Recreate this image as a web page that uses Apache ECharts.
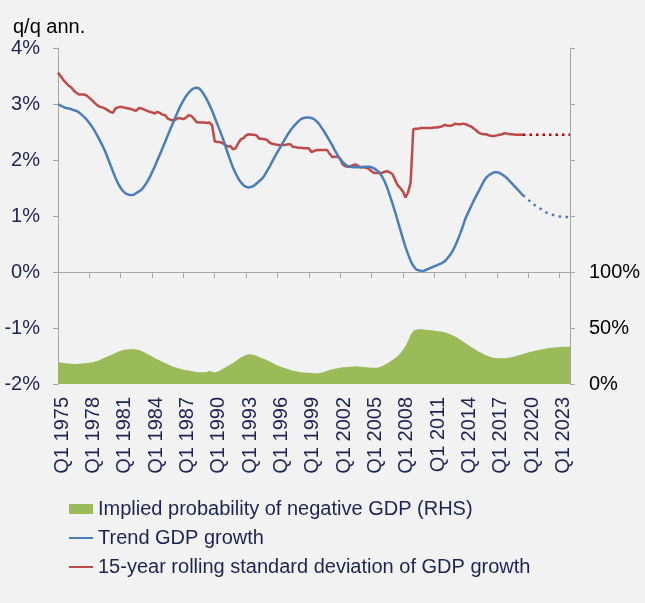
<!DOCTYPE html>
<html>
<head>
<meta charset="utf-8">
<script src="https://cdn.jsdelivr.net/npm/echarts@6/dist/echarts.min.js"></script>
<style>
html,body{margin:0;padding:0;background:#F2F2F2;}
#c{width:645px;height:603px;}
</style>
</head>
<body>
<div id="c"></div>
<script>
// Quarterly categories Q1 1975 .. Q1 2024
var categories = [];
for (var y = 1975; y <= 2024; y++) {
  for (var q = 1; q <= 4; q++) {
    if (y === 2024 && q > 1) break;
    categories.push('Q' + q + ' ' + y);
  }
}

// Trend GDP growth (% q/q ann.), solid part Q1 1975 .. Q3 2019
var trendGrowth = [
  3.00, 2.97, 2.95, 2.93,
  2.92, 2.91, 2.89, 2.88,
  2.85, 2.81, 2.77, 2.72,
  2.66, 2.60, 2.52, 2.44,
  2.35, 2.26, 2.16, 2.04,
  1.92, 1.80, 1.68, 1.58,
  1.50, 1.44, 1.40, 1.38,
  1.375, 1.38, 1.41, 1.44,
  1.47, 1.53, 1.60, 1.68,
  1.78, 1.88, 1.99, 2.10,
  2.21, 2.32, 2.44, 2.55,
  2.66, 2.77, 2.88, 2.98,
  3.06, 3.14, 3.20, 3.25,
  3.28, 3.29, 3.28, 3.23,
  3.16, 3.08, 2.98, 2.88,
  2.76, 2.64, 2.52, 2.40,
  2.26, 2.12, 1.99, 1.86,
  1.76, 1.67, 1.60, 1.55,
  1.52, 1.51, 1.52, 1.54,
  1.58, 1.62, 1.66, 1.72,
  1.80, 1.88, 1.97, 2.06,
  2.14, 2.22, 2.30, 2.38,
  2.46, 2.53, 2.59, 2.64,
  2.69, 2.73, 2.75, 2.76,
  2.76, 2.75, 2.73, 2.69,
  2.64, 2.57, 2.50, 2.42,
  2.34, 2.26, 2.17, 2.09,
  2.02, 1.96, 1.92, 1.89,
  1.88, 1.87, 1.87, 1.87,
  1.87, 1.88, 1.88, 1.88,
  1.87, 1.85, 1.82, 1.78,
  1.71, 1.62, 1.51, 1.37,
  1.23, 1.08, 0.92, 0.76,
  0.60, 0.45, 0.32, 0.20,
  0.11, 0.05, 0.03, 0.02,
  0.02, 0.04, 0.06, 0.08,
  0.10, 0.12, 0.14, 0.16,
  0.19, 0.24, 0.30, 0.37,
  0.46, 0.57, 0.69, 0.82,
  0.96, 1.06, 1.16, 1.26,
  1.35, 1.44, 1.53, 1.62,
  1.69, 1.73, 1.76, 1.78,
  1.78, 1.77, 1.74, 1.71,
  1.67, 1.62, 1.57, 1.52,
  1.47, 1.42, 1.37
];
// Trend GDP growth projection, Q3 2019 .. Q1 2024
var trendProjection = [
  1.37, 1.33, 1.29, 1.25, 1.21, 1.18, 1.15, 1.12, 1.09, 1.06,
  1.04, 1.03, 1.01, 1.00, 0.99, 0.99, 0.98, 0.98, 0.97
];

// 15-year rolling standard deviation of GDP growth, Q1 1975 .. Q3 2019
var rollingStd = [
  3.56, 3.50, 3.43, 3.38,
  3.33, 3.30, 3.24, 3.20,
  3.17, 3.17, 3.17, 3.15,
  3.11, 3.07, 3.02, 2.98,
  2.95, 2.94, 2.92, 2.89,
  2.86, 2.84, 2.92, 2.94,
  2.95, 2.94, 2.93, 2.92,
  2.91, 2.89, 2.88, 2.93,
  2.92, 2.90, 2.88, 2.86,
  2.85, 2.83, 2.86, 2.84,
  2.81, 2.80, 2.74, 2.72,
  2.71, 2.72, 2.75, 2.74,
  2.73, 2.76, 2.80, 2.79,
  2.74, 2.68, 2.67, 2.67,
  2.67, 2.66, 2.67, 2.62,
  2.33, 2.32, 2.32, 2.30,
  2.27, 2.24, 2.25, 2.19,
  2.21, 2.30, 2.37, 2.39,
  2.44, 2.46, 2.45, 2.45,
  2.44, 2.38, 2.38, 2.37,
  2.36, 2.31, 2.29, 2.28,
  2.27, 2.27, 2.27, 2.27,
  2.28, 2.28, 2.23, 2.23,
  2.22, 2.22, 2.21, 2.21,
  2.21, 2.14, 2.16, 2.18,
  2.18, 2.18, 2.18, 2.18,
  2.11, 2.05, 2.06, 2.06,
  2.02, 1.92, 1.89, 1.88,
  1.89, 1.91, 1.92, 1.89,
  1.87, 1.87, 1.86, 1.84,
  1.80, 1.77, 1.77, 1.77,
  1.77, 1.79, 1.80, 1.78,
  1.75, 1.65, 1.55, 1.50,
  1.44, 1.33, 1.42, 1.60,
  2.55, 2.56, 2.56, 2.57,
  2.57, 2.57, 2.57, 2.57,
  2.58, 2.58, 2.59, 2.60,
  2.63, 2.61, 2.61, 2.62,
  2.65, 2.64, 2.64, 2.65,
  2.64, 2.62, 2.60, 2.57,
  2.53, 2.49, 2.47, 2.46,
  2.46, 2.44, 2.43, 2.43,
  2.44, 2.45, 2.46, 2.48,
  2.47, 2.46, 2.46, 2.45,
  2.45, 2.45, 2.45
];
// Rolling standard deviation projection, Q3 2019 .. Q1 2024
var rollingStdProjection = [
  2.45, 2.45, 2.45, 2.45, 2.45, 2.45, 2.45, 2.45, 2.45, 2.45,
  2.45, 2.45, 2.45, 2.45, 2.45, 2.45, 2.45, 2.45, 2.45
];

// Implied probability of negative GDP (%), RHS, Q1 1975 .. Q1 2024
var negProbability = [
  19.5, 19.2, 18.8, 18.5,
  18.2, 18.0, 17.9, 17.9,
  18.1, 18.3, 18.5, 18.7,
  18.9, 19.3, 19.9, 20.6,
  21.5, 22.5, 23.6, 24.6,
  25.6, 26.6, 27.7, 28.7,
  29.6, 30.3, 30.8, 31.0,
  31.0, 31.0, 30.8, 30.3,
  29.4, 28.3, 27.1, 25.8,
  24.5, 23.3, 22.0, 20.9,
  19.8, 18.7, 17.6, 16.5,
  15.6, 14.8, 14.0, 13.3,
  12.8, 12.4, 12.0, 11.6,
  11.2, 10.8, 10.5, 10.4,
  10.5, 10.7, 11.8, 11.0,
  10.2, 10.9, 12.0, 13.3,
  14.7, 16.0, 17.4, 18.8,
  20.4, 22.0, 23.6, 25.0,
  25.9, 26.5, 26.4, 26.0,
  25.2, 24.2, 23.3, 22.4,
  21.3, 20.2, 19.0, 17.8,
  16.6, 15.6, 14.8, 14.0,
  13.3, 12.6, 11.9, 11.3,
  10.9, 10.6, 10.3, 10.1,
  10.0, 9.8, 9.6, 9.5,
  9.6, 10.2, 11.0, 11.8,
  12.5, 13.1, 13.6, 14.1,
  14.6, 15.0, 14.9, 15.2,
  15.5, 15.7, 15.8, 15.6,
  15.5, 15.2, 15.0, 14.8,
  14.6, 14.4, 14.4, 15.0,
  15.9, 17.0, 18.3, 19.8,
  21.4, 23.0, 24.9, 27.3,
  30.3, 33.8, 38.5, 44.0,
  47.5, 48.5, 48.8, 48.8,
  48.7, 48.5, 48.3, 48.0,
  47.7, 47.4, 47.1, 46.7,
  46.1, 45.4, 44.6, 43.6,
  42.4, 41.1, 39.6, 38.0,
  36.4, 34.8, 33.3, 31.9,
  30.4, 29.0, 27.8, 26.6,
  25.5, 24.5, 23.8, 23.3,
  23.0, 22.9, 22.9, 23.0,
  23.3, 23.7, 24.2, 24.8,
  25.4, 26.1, 26.8, 27.5,
  28.1, 28.7, 29.3, 29.9,
  30.4, 30.9, 31.3, 31.7,
  32.1, 32.4, 32.7, 32.9,
  33.1, 33.2, 33.3, 33.3,
  33.3
];

var leftTicks = { min: -2, max: 4, step: 1 };
var rightTicks = { min: 0, max: 300, step: 50, lastLabelled: 100 };

var names = {
  area: 'Implied probability of negative GDP (RHS)',
  trend: 'Trend GDP growth',
  std: '15-year rolling standard deviation of GDP growth'
};

var projStart = trendGrowth.length - 1;
function padProjection(arr) {
  var out = [];
  for (var i = 0; i < projStart; i++) out.push('-');
  return out.concat(arr);
}

var FONT = "'Liberation Sans', Arial, sans-serif";
var NAVY = '#1c2456';
var AXIS = '#A6A6A6';
var BLUE = '#4A7EBB';
var RED = '#BE4B48';
var GREEN = '#9BBB59';
var LINE_ICON = 'path://M0,0 L24,0 L24,2 L0,2 Z';

var chart = echarts.init(document.getElementById('c'), null, { renderer: 'canvas' });
chart.setOption({
  backgroundColor: '#F2F2F2',
  animation: false,
  textStyle: { fontFamily: FONT },
  title: {
    text: 'q/q ann.',
    left: 8, top: 12,
    textStyle: { fontFamily: FONT, fontSize: 20, fontWeight: 'normal', color: '#000' }
  },
  grid: { left: 58, right: 75, top: 48, height: 336, containLabel: false },
  legend: {
    orient: 'vertical',
    left: 64, top: 494,
    itemWidth: 24, itemHeight: 10, itemGap: 9,
    symbolKeepAspect: true,
    textStyle: { fontFamily: FONT, fontSize: 20, color: NAVY },
    data: [
      { name: names.area, icon: 'rect' },
      { name: names.trend, icon: LINE_ICON },
      { name: names.std, icon: LINE_ICON }
    ]
  },
  xAxis: [{
    type: 'category',
    data: categories,
    boundaryGap: false,
    axisLine: { show: true, onZero: true, onZeroAxisIndex: 0, lineStyle: { color: AXIS, width: 1 } },
    axisTick: { show: true, interval: 11, length: 6, lineStyle: { color: AXIS } },
    axisLabel: { show: false },
    splitLine: { show: false }
  }, {
    type: 'category',
    data: categories,
    boundaryGap: false,
    position: 'bottom',
    axisLine: { show: false, onZero: false },
    axisTick: { show: false },
    axisLabel: {
      interval: 11, rotate: 90, margin: 13,
      verticalAlign: 'top', lineHeight: 8,
      fontFamily: FONT, fontSize: 20, color: NAVY
    },
    splitLine: { show: false }
  }],
  yAxis: [{
    type: 'value',
    min: leftTicks.min, max: leftTicks.max, interval: leftTicks.step,
    position: 'left',
    axisLine: { show: true, lineStyle: { color: AXIS } },
    axisTick: { show: true, length: 5, lineStyle: { color: AXIS } },
    axisLabel: { formatter: '{value}%', fontFamily: FONT, fontSize: 20, color: NAVY, margin: 18 },
    splitLine: { show: false }
  }, {
    type: 'value',
    min: rightTicks.min, max: rightTicks.max, interval: rightTicks.step,
    position: 'right',
    axisLine: { show: true, lineStyle: { color: AXIS } },
    axisTick: { show: true, length: 5, lineStyle: { color: AXIS } },
    axisLabel: {
      formatter: function (v) { return v <= rightTicks.lastLabelled ? v + '%' : ''; },
      fontFamily: FONT, fontSize: 20, color: '#000', margin: 19
    },
    splitLine: { show: false }
  }],
  series: [{
    name: names.area,
    type: 'line',
    xAxisIndex: 0, yAxisIndex: 1,
    data: negProbability,
    symbol: 'none',
    lineStyle: { width: 0, color: GREEN },
    itemStyle: { color: GREEN },
    areaStyle: { color: GREEN, opacity: 1 },
    z: 1
  }, {
    name: names.trend,
    type: 'line',
    xAxisIndex: 0, yAxisIndex: 0,
    data: trendGrowth,
    symbol: 'none',
    lineStyle: { width: 2.5, color: BLUE },
    itemStyle: { color: BLUE },
    z: 3
  }, {
    name: names.std,
    type: 'line',
    xAxisIndex: 0, yAxisIndex: 0,
    data: rollingStd,
    symbol: 'none',
    lineStyle: { width: 2.5, color: RED },
    itemStyle: { color: RED },
    z: 2
  }, {
    name: 'Trend projection',
    type: 'line',
    xAxisIndex: 0, yAxisIndex: 0,
    data: padProjection(trendProjection),
    symbol: 'none',
    lineStyle: { width: 2.5, color: BLUE, type: [2.5, 4.5] },
    itemStyle: { color: BLUE },
    z: 3
  }, {
    name: 'Std projection',
    type: 'line',
    xAxisIndex: 0, yAxisIndex: 0,
    data: padProjection(rollingStdProjection),
    symbol: 'none',
    lineStyle: { width: 2.5, color: '#C00000', type: [2.5, 4] },
    itemStyle: { color: RED },
    z: 2
  }]
});
</script>
</body>
</html>
